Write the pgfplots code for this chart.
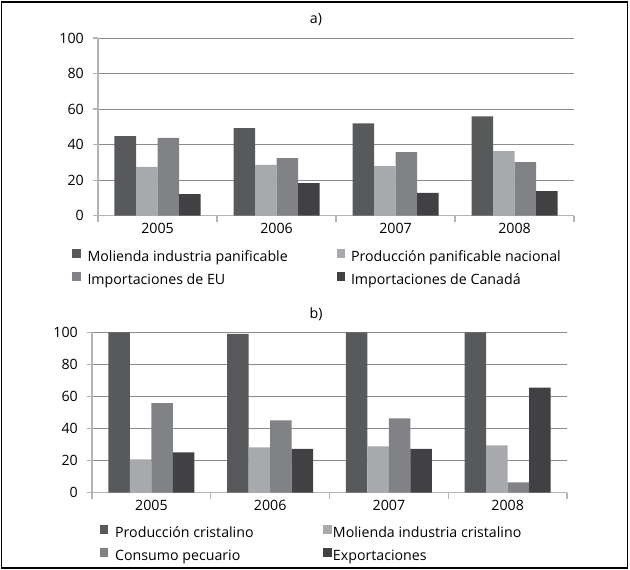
\documentclass[border=0pt]{standalone}
\usepackage{fontspec}
\setmainfont{Open Sans}
\usepackage{pgfplots}
\pgfplotsset{compat=1.18}
\definecolor{c1}{HTML}{58595B}
\definecolor{c2}{HTML}{A7A9AC}
\definecolor{c3}{HTML}{808285}
\definecolor{c4}{HTML}{414042}
\definecolor{gridc}{HTML}{8C8C8C}
\definecolor{axc}{HTML}{B4B4B4}
\pgfplotsset{
  mybar/.style={
    ybar=0pt, bar width=21.5bp, scale only axis,
    ymin=0, ymax=100, ytick={0,20,...,100},
    xmin=-0.5, xmax=3.5, xtick={0,1,2,3},
    xticklabels={2005,2006,2007,2008},
    minor xtick={-0.5,0.5,1.5,2.5,3.5},
    axis x line*=bottom, axis y line*=left,
    axis line style={axc, line width=1.2bp},
    ymajorgrids, grid style={gridc, line width=0.8bp},
    tick align=outside, major tick length=5bp, minor tick length=6bp,
    tick style={axc, line width=1.2bp},
    major x tick style={draw=none},
    /pgf/number format/assume math mode=true,
    yticklabel style={anchor=east, inner sep=0pt, xshift=-9bp},
    xticklabel style={anchor=north, inner sep=0pt, text height=9.6bp, text depth=0pt, yshift=-3bp},
    every axis plot/.append style={draw=none},
    legend columns=2,
    legend cell align=left,
    legend image code/.code={\fill[##1] (0bp,0.5bp) rectangle (8.5bp,9bp);},
    legend style={draw=none, fill=none, inner sep=0pt, outer sep=0pt,
      column sep=0pt, row sep=8bp, anchor=north west,
      nodes={inner sep=0pt, outer sep=0pt, text height=9bp, text depth=3bp}},
  }
}
\begin{document}
\fontsize{14.2bp}{16bp}\selectfont
\begin{tikzpicture}
\useasboundingbox (0,0) rectangle (630bp,570bp);
\draw[line width=1.4bp] (1.4bp,1.8bp) rectangle (627.3bp,568bp);
% Panel a
\begin{axis}[mybar,
  at={(98bp,354.3bp)}, anchor=south west,
  width=476bp, height=177.7bp,
  title={a)}, title style={at={(0.458,1.068)}, anchor=center, inner sep=0pt},
  legend style={at={(-0.0546,-0.19)}},
]
\addplot[fill=c1] coordinates {(0,44.8) (1,49.3) (2,52.0) (3,55.9)};
\addlegendentry{\hspace{7bp}\makebox[249bp][l]{Molienda industria panificable}}
\addplot[fill=c2] coordinates {(0,27.5) (1,28.6) (2,27.9) (3,36.3)};
\addlegendentry{\hspace{6bp}Producción panificable nacional}
\addplot[fill=c3] coordinates {(0,43.8) (1,32.4) (2,35.8) (3,30.2)};
\addlegendentry{\hspace{7bp}\makebox[249bp][l]{Importaciones de EU}}
\addplot[fill=c4] coordinates {(0,12.2) (1,18.3) (2,12.9) (3,13.8)};
\addlegendentry{\hspace{6bp}Importaciones de Canadá}
\end{axis}
% Panel b
\begin{axis}[mybar,
  at={(92bp,77.5bp)}, anchor=south west,
  width=475bp, height=160bp,
  title={b)}, title style={at={(0.4716,1.076)}, anchor=center, inner sep=0pt},
  legend style={at={(0.0168,-0.206)}},
]
\addplot[fill=c1] coordinates {(0,100) (1,99.2) (2,100) (3,100)};
\addlegendentry{\hspace{6.7bp}\makebox[208.3bp][l]{Producción cristalino}}
\addplot[fill=c2] coordinates {(0,20.7) (1,28.2) (2,28.8) (3,29.5)};
\addlegendentry{\hspace{1bp}Molienda industria cristalino}
\addplot[fill=c3] coordinates {(0,55.8) (1,45.0) (2,46.3) (3,6.3)};
\addlegendentry{\hspace{6.7bp}\makebox[208.3bp][l]{Consumo pecuario}}
\addplot[fill=c4] coordinates {(0,25.1) (1,27.2) (2,27.2) (3,65.6)};
\addlegendentry{\hspace{1bp}Exportaciones}
\end{axis}
\end{tikzpicture}
\end{document}
